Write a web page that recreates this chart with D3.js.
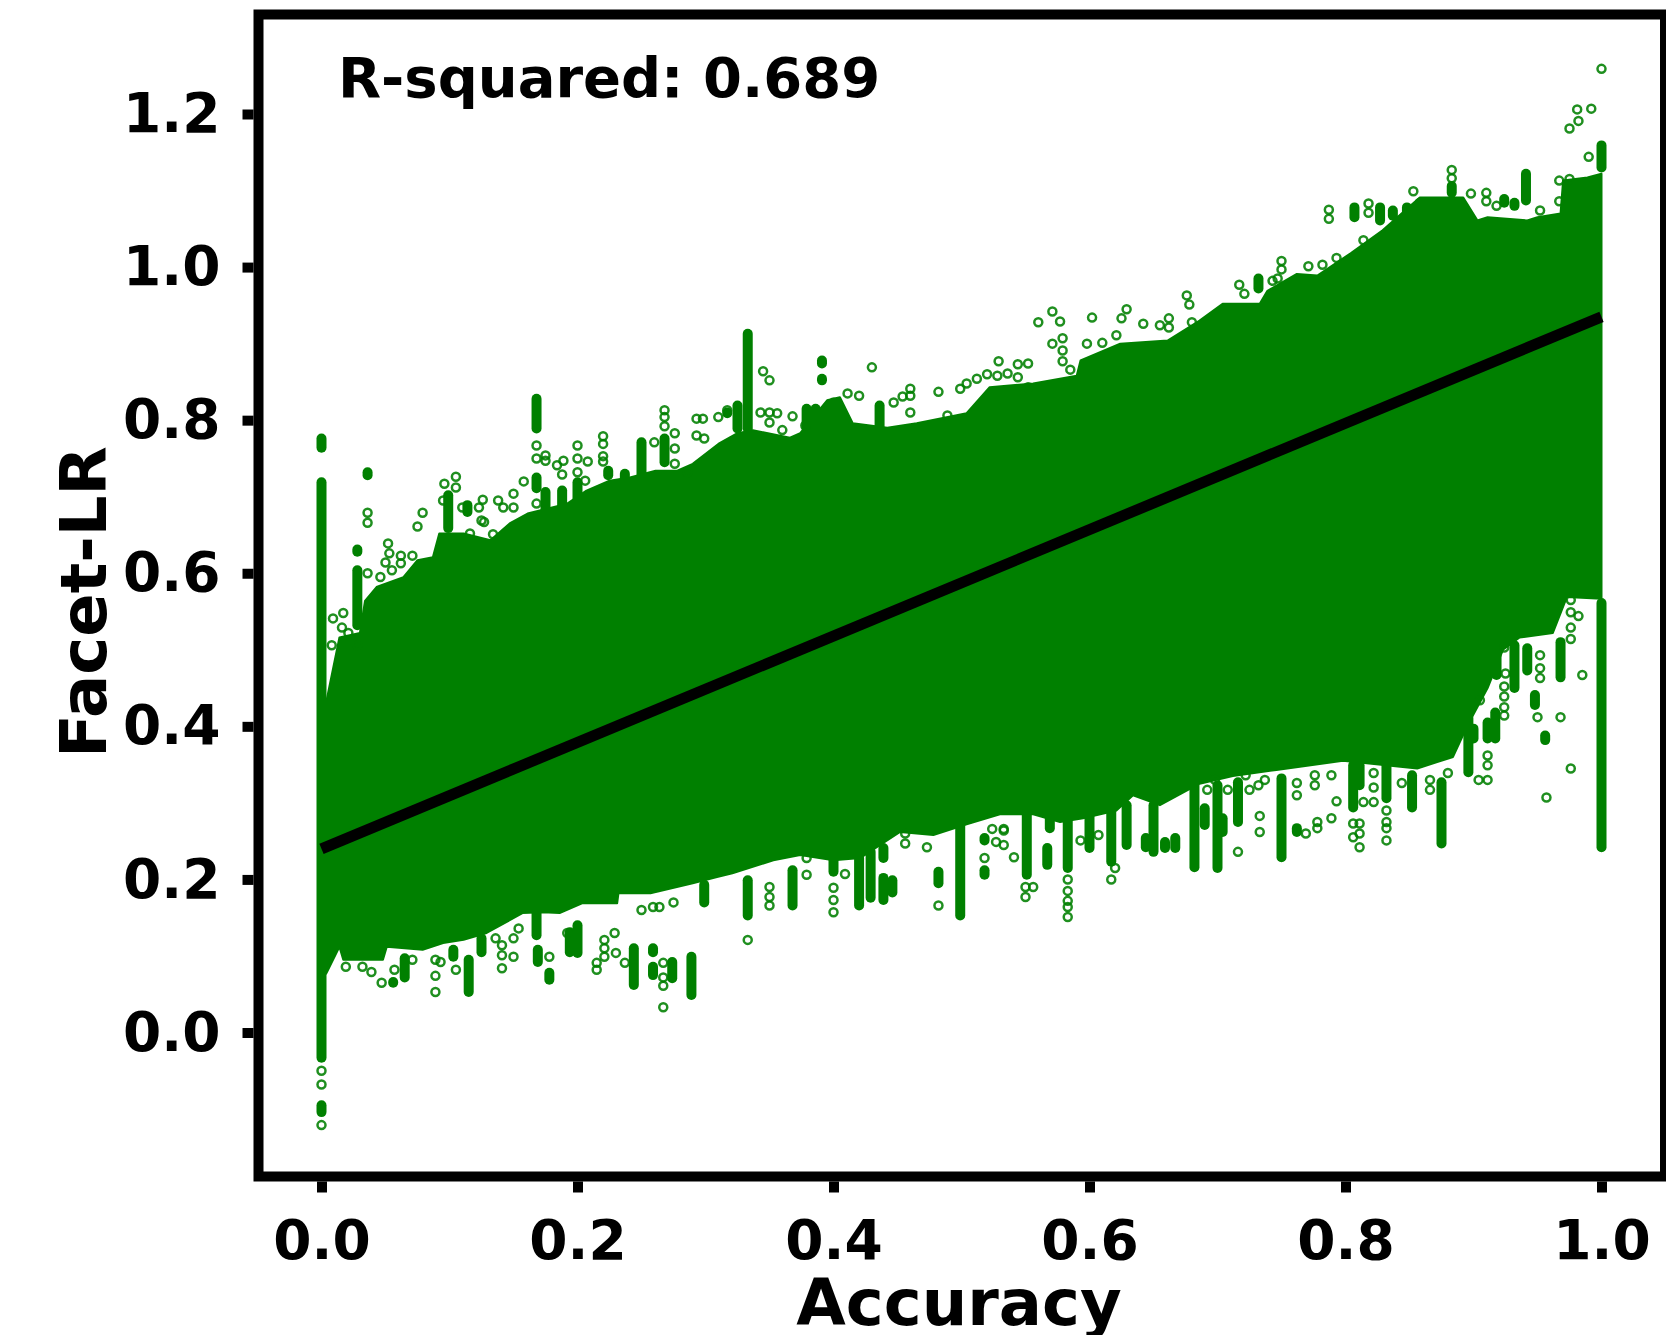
<!DOCTYPE html>
<html><head><meta charset="utf-8">
<script src="https://cdn.jsdelivr.net/npm/d3@7/dist/d3.min.js"></script>
<style>html,body{margin:0;padding:0;background:#fff;overflow:hidden}svg{display:block}text{font-family:"DejaVu Sans";font-weight:700;fill:#000}</style>
</head><body><div id="chart"></div>
<script>
const xLabel = "Accuracy", yLabel = "Facet-LR", note = "R-squared: 0.689";
const xTicks = [0,0.2,0.4,0.6,0.8,1.0];
const yTicks = [0,0.2,0.4,0.6,0.8,1.0,1.2];
const fitX = [0,1];
const fitY = [0.24,0.935];

// Outer edge of the solid cloud
const upperX = [0,.004,.014,.030,.034,.043,.064,.075,.087,.092,.111,.132,.147,.161,.192,.207,.225,.241,.261,.278,.290,.311,.325,.337,.366,.374,.395,.405,.415,.442,.465,.504,.522,.556,.590,.593,.624,.661,.686,.704,.733,.739,.762,.778,.804,.829,.858,.892,.903,.911,.942,.950,.968,.970,.989,1];
const upperY = [.40,.434,.516,.522,.564,.582,.595,.617,.621,.652,.652,.643,.665,.678,.691,.708,.721,.725,.734,.734,.743,.770,.783,.787,.777,.783,.826,.830,.796,.790,.796,.809,.843,.848,.858,.878,.900,.904,.930,.952,.952,.969,.991,.989,1.018,1.048,1.091,1.091,1.061,1.065,1.061,1.065,1.070,1.113,1.117,1.122];
const lowerX = [0,.004,.014,.017,.048,.051,.079,.095,.111,.129,.157,.173,.186,.204,.231,.232,.257,.290,.309,.321,.353,.374,.400,.421,.452,.478,.504,.530,.556,.577,.595,.621,.634,.655,.686,.712,.746,.798,.856,.884,.895,.911,.923,.936,.962,.973,.996,1];
const lowerY = [.07,.078,.112,.095,.095,.112,.108,.117,.121,.130,.156,.157,.156,.169,.169,.182,.182,.195,.203,.208,.225,.232,.225,.228,.262,.258,.272,.285,.285,.275,.280,.290,.310,.297,.325,.335,.343,.355,.345,.360,.400,.450,.500,.516,.522,.569,.567,.567];

// Columns of overlapping points at one accuracy
const stripX  = [0,0,0,.028,.028,.036,.099,.114,.168,.168,.175,.188,.200,.224,.237,.250,.268,.333,.325,.317,.391,.391,.379,.386,.400,.436,.732,.807,.827,.837,.848,.858,.868,.879,.883,.924,.932,.941,1,
 .065,.056,.115,.125,.103,.168,.169,.178,.194,.200,.244,.259,.259,.274,.289,.299,.333,.368,.400,.420,.429,.439,.446,.439,.482,.499,.518,.518,.551,.569,.567,.583,.600,.617,.629,.644,.650,.659,.667,.682,.700,.690,.704,.716,.750,.762,.806,.811,.832,.852,.875,.896,.911,.917,.900,.918,.932,.948,.956,.942,.968,1];
const stripHi = [.719,.776,-.095,.604,.631,.732,.702,.689,.828,.725,.706,.708,.719,.734,.730,.771,.776,.913,.819,.810,.878,.854,.815,.815,.823,.819,.985,1.078,1.078,1.074,1.078,1.084,1.083,1.084,1.106,1.089,1.084,1.122,1.159,
 .097,.066,.095,.123,.108,.156,.108,.078,.131,.140,.110,.110,.086,.092,.099,.193,.199,.212,.290,.228,.236,.202,.199,.241,.210,.271,.212,.254,.284,.288,.241,.297,.293,.297,.297,.254,.297,.249,.254,.323,.323,.293,.280,.327,.332,.267,.349,.349,.349,.336,.327,.411,.405,.418,.397,.502,.506,.441,.388,.502,.510,.561];
const stripLo = [-.033,.764,-.104,.532,.628,.728,.659,.680,.789,.711,.659,.685,.659,.728,.719,.719,.745,.789,.789,.809,.874,.852,.789,.789,.789,.784,.972,1.065,1.061,1.067,1.067,1.080,1.080,1.080,1.097,1.084,1.080,1.087,1.130,
 .072,.065,.053,.105,.099,.127,.092,.069,.105,.104,.062,.105,.075,.071,.049,.170,.153,.166,.210,.166,.176,.173,.183,.228,.195,.153,.206,.251,.206,.267,.219,.215,.241,.223,.245,.242,.236,.241,.241,.216,.215,.271,.262,.275,.229,.262,.294,.323,.306,.294,.247,.340,.384,.384,.384,.467,.450,.428,.382,.473,.464,.242];

// Single open points outside the cloud
const pointX = [1,.992,.981,.982,.975,.990,.967,.975,.967,.952,.918,.910,.910,.898,.883,.883,.853,.818,.818,.787,.787,.814,.793,.782,.771,.750,.750,.747,.743,.717,.721,.676,.642,.662,.662,.655,.629,.625,.621,.602,.678,.680,.610,.598,.560,.571,.577,.571,.579,.579,.579,.585,.499,.504,.512,.520,.528,.529,.536,.544,.552,.544,.552,.482,.489,.460,.460,.460,.454,.447,.430,.411,.420,.345,.350,.343,.350,.356,.350,.368,.378,.360,.317,.310,.298,.293,.293,.299,.286,.276,.276,.276,.268,.268,.268,.260,.220,.220,.220,.220,.208,.206,.200,.200,.200,.184,.189,.188,.175,.175,.168,.168,.168,.158,.150,.150,.138,.142,.123,.126,.125,.127,.116,.134,.110,.096,.105,.105,.095,.075,.079,.071,.062,.062,.055,.052,.050,.053,.036,.046,.036,.036,.009,.017,.016,.008,.021,.028,
 0,0,0,.019,.032,.039,.057,.047,.071,.089,.093,.089,.089,.105,.136,.141,.141,.141,.150,.150,.154,.178,.192,.215,.215,.221,.221,.221,.229,.230,.237,.267,.267,.267,.267,.250,.259,.264,.275,.333,.350,.350,.350,.379,.379,.400,.400,.400,.409,.482,.518,.550,.550,.556,.583,.583,.583,.583,.583,.607,.593,.617,.620,.716,.733,.733,.762,.762,.769,.778,.778,.776,.776,.789,.793,.789,.806,.806,.811,.811,.811,.814,.822,.822,.822,.832,.832,.832,.832,.844,.866,.866,.880,.904,.911,.911,.911,.925,.924,.924,.924,.924,.950,.952,.952,.952,.968,.976,.957,.985,.976,.976,.976,.976,.982,.692,.698,.708,.722,.725,.732,.737,.533,.533,.541,.473,.456,.456,.524,.533,.527,.905,.924];
const pointY = [1.259,1.207,1.206,1.191,1.181,1.144,1.113,1.115,1.086,1.074,1.080,1.097,1.086,1.096,1.127,1.116,1.099,1.083,1.071,1.075,1.063,1.035,1.012,1.003,1.001,1.008,.997,.985,.982,.977,.965,.963,.926,.933,.921,.924,.945,.933,.911,.934,.951,.928,.901,.900,.928,.942,.929,.900,.907,.891,.877,.866,.841,.848,.854,.860,.858,.877,.861,.873,.874,.856,.843,.837,.806,.841,.832,.810,.831,.823,.869,.835,.832,.864,.852,.810,.810,.809,.797,.805,.793,.787,.813,.804,.802,.802,.780,.776,.732,.783,.763,.743,.813,.804,.792,.771,.779,.769,.753,.746,.746,.721,.767,.750,.732,.741,.747,.729,.754,.747,.767,.750,.691,.720,.704,.686,.695,.686,.686,.696,.669,.667,.652,.651,.686,.717,.726,.712,.695,.661,.679,.623,.623,.613,.604,.639,.614,.626,.600,.595,.679,.666,.541,.548,.529,.506,.522,.506,
 -.050,-.068,-.121,.086,.086,.079,.082,.065,.095,.095,.092,.074,.053,.082,.123,.084,.114,.101,.123,.099,.136,.099,.130,.091,.082,.121,.099,.110,.130,.104,.091,.091,.072,.061,.033,.160,.164,.164,.170,.121,.190,.177,.166,.228,.206,.189,.173,.157,.207,.166,.228,.190,.177,.190,.200,.185,.172,.164,.151,.258,.251,.200,.215,.236,.283,.262,.326,.310,.260,.275,.267,.323,.336,.336,.302,.280,.273,.255,.273,.260,.242,.301,.301,.339,.320,.290,.275,.267,.251,.326,.330,.317,.339,.330,.330,.362,.349,.469,.452,.439,.425,.414,.412,.493,.476,.463,.412,.345,.307,.467,.565,.549,.529,.514,.544,.317,.330,.317,.336,.317,.323,.330,.264,.245,.229,.242,.260,.247,.266,.266,.249,.434,.503];

const W = 1666, H = 1335, GREEN = "#008000";
const x = d3.scaleLinear().domain([0,1]).range([321.5,1601.5]);
const y = d3.scaleLinear().domain([0,1.2]).range([1032.5,114]);

const svg = d3.select("#chart").append("svg").attr("width",W).attr("height",H).attr("viewBox",[0,0,W,H]);

const outline = upperX.map((v,i)=>[v,upperY[i]])
  .concat(lowerX.map((v,i)=>[v,lowerY[i]]).reverse());
svg.append("path")
  .attr("d", d3.line().x(d=>x(d[0])).y(d=>y(d[1])).curve(d3.curveLinearClosed)(outline))
  .attr("fill",GREEN).attr("stroke",GREEN).attr("stroke-width",2).attr("stroke-linejoin","round");

svg.append("g").selectAll("line").data(stripX).join("line")
  .attr("x1",d=>x(d)).attr("x2",d=>x(d))
  .attr("y1",(d,i)=>y(stripHi[i])).attr("y2",(d,i)=>y(stripLo[i]))
  .attr("stroke",GREEN).attr("stroke-width",10).attr("stroke-linecap","round");

svg.append("g").selectAll("circle").data(pointX).join("circle")
  .attr("cx",d=>x(d)).attr("cy",(d,i)=>y(pointY[i])).attr("r",4)
  .attr("fill","none").attr("stroke",GREEN).attr("stroke-width",2.5).attr("stroke-opacity",.88);

svg.append("line")
  .attr("x1",x(fitX[0])).attr("x2",x(fitX[1]))
  .attr("y1",y(fitY[0])).attr("y2",y(fitY[1]))
  .attr("stroke","#000").attr("stroke-width",11);

svg.append("rect").attr("x",258.5).attr("y",14.5).attr("width",1406.5).attr("height",1162)
  .attr("fill","none").attr("stroke","#000").attr("stroke-width",10);

const xAxis = svg.append("g").attr("transform","translate(0,1181.5)")
  .call(d3.axisBottom(x).tickValues(xTicks).tickSize(11).tickPadding(27).tickFormat(d3.format(".1f")));
const yAxis = svg.append("g").attr("transform","translate(253.5,0)")
  .call(d3.axisLeft(y).tickValues(yTicks).tickSize(11).tickPadding(22).tickFormat(d3.format(".1f")));
[xAxis,yAxis].forEach(a=>{
  a.select(".domain").remove();
  a.selectAll("line").attr("stroke","#000").attr("stroke-width",10);
  a.selectAll("text").style("font-family",'"DejaVu Sans"').style("font-weight",700).style("font-size","55px").attr("fill","#000");
});

svg.append("text").attr("x",338).attr("y",97).style("font-size","56px").text(note);
svg.append("text").attr("x",959).attr("y",1325).attr("text-anchor","middle").style("font-size","64px").text(xLabel);
svg.append("text").attr("transform","translate(106,602) rotate(-90)").attr("text-anchor","middle").style("font-size","64px").text(yLabel);
</script></body></html>
